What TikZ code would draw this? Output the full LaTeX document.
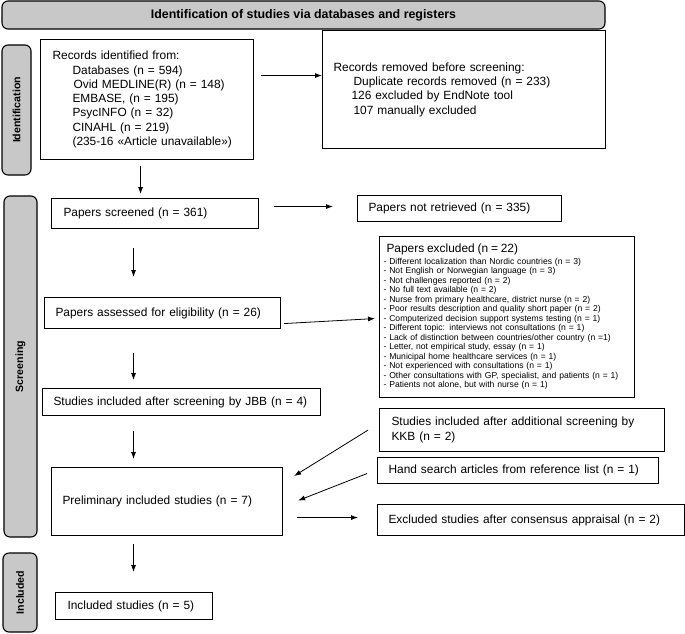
\documentclass[tikz,border=0pt]{standalone}
\usepackage{fontspec}
\setmainfont{Liberation Sans}
\usetikzlibrary{arrows.meta,calc}
\definecolor{bargray}{HTML}{C8C8C8}

\begin{document}
\begin{tikzpicture}[x=1pt,y=-1pt,
	box/.style={draw,line width=1.1pt,anchor=north west,align=left,inner ysep=0pt,font=\fontsize{11.9}{14.3}\selectfont},
	bar/.style={draw,line width=1.1pt,fill=bargray,rounded corners=6pt,font=\fontsize{10.6}{13}\selectfont\bfseries},
	arr/.style={line width=0.8pt,-{Latex[length=7pt,width=5pt]}}]

	\useasboundingbox (0,0) rectangle (685,633);

	\node[bar,minimum width=603pt,minimum height=28pt,font=\fontsize{12.4}{14}\selectfont\bfseries] (head) at (303.5,15) {Identification of studies via databases and registers};
	\node[bar,rotate=90,minimum width=130pt,minimum height=29pt] (idbar) at (16.5,110) {Identification};
	\node[bar,rotate=90,minimum width=341pt,minimum height=33pt] (scrbar) at (20.5,366.5) {Screening};
	\node[bar,rotate=90,minimum width=79pt,minimum height=34pt] (incbar) at (20,592.5) {Included};

	\node[box,text width=189pt,inner xsep=12pt,minimum height=120pt] (rec) at (40,39) {Records identified from:\\
		\hspace*{20pt}Databases (n = 594)\\
		\hspace*{21pt}Ovid MEDLINE(R) (n = 148)\\
		\hspace*{20pt}EMBASE, (n = 195)\\
		\hspace*{20pt}PsycINFO (n = 32)\\
		\hspace*{20pt}CINAHL (n = 219)\\
		\hspace*{20pt}(235-16 «Article unavailable»)};
	\node[box,text width=261pt,inner xsep=11pt,minimum height=118pt] (rem) at (322,30) {Records removed before screening:\\
		\hspace*{20pt}Duplicate records removed (n = 233)\\
		\hspace*{18pt}126 excluded by EndNote tool\\
		\hspace*{20pt}107 manually excluded};
	\node[box,text width=183pt,inner xsep=12pt,minimum height=30pt] (scr) at (51,198) {Papers screened (n = 361)};
	\node[box,text width=182pt,inner xsep=11pt,minimum height=26pt] (nret) at (357,195) {Papers not retrieved (n = 335)};
	\node[box,text width=247pt,inner xsep=4pt,minimum height=161pt,font=\fontsize{8.6}{9.5}\selectfont] (exc) at (379,236) {{\fontsize{11.9}{14.3}\selectfont\hspace*{3pt}Papers excluded (n = 22)}\\[2pt]
		- Different localization than Nordic countries (n = 3)\\
		- Not English or Norwegian language (n = 3)\\
		- Not challenges reported (n = 2)\\
		- No full text available (n = 2)\\
		- Nurse from primary healthcare, district nurse (n = 2)\\
		- Poor results description and quality short paper (n = 2)\\
		- Computerized decision support systems testing (n = 1)\\
		- Different topic: interviews not consultations (n = 1)\\
		- Lack of distinction between countries/other country (n =1)\\
		- Letter, not empirical study, essay (n = 1)\\
		- Municipal home healthcare services (n = 1)\\
		- Not experienced with consultations (n = 1)\\
		- Other consultations with GP, specialist, and patients (n = 1)\\
		- Patients not alone, but with nurse (n = 1)};
	\node[box,text width=214pt,inner xsep=11pt,minimum height=31pt] (elig) at (44,297) {Papers assessed for eligibility (n = 26)};
	\node[box,text width=256pt,inner xsep=11pt,minimum height=27pt] (jbb) at (42,388) {Studies included after screening by JBB (n = 4)};
	\node[box,text width=261pt,inner xsep=12pt,minimum height=43pt] (kkb) at (379,408) {Studies included after additional screening by\\KKB (n = 2)};
	\node[box,text width=259pt,inner xsep=11pt,minimum height=26pt] (hand) at (377,457) {Hand search articles from reference list (n = 1)};
	\node[box,text width=209pt,inner xsep=11pt,minimum height=68pt] (prel) at (51,467) {Preliminary included studies (n = 7)};
	\node[box,text width=285pt,inner xsep=11pt,minimum height=31pt] (cons) at (377,504) {Excluded studies after consensus appraisal (n = 2)};
	\node[box,text width=133pt,inner xsep=12pt,minimum height=27pt] (incl) at (55,592) {Included studies (n = 5)};

	\draw[arr] ($(rec.east)+(7,-24)$) -- ($(rem.west)+(0,-14)$);
	\draw[arr] ($(rec.south)+(-6.5,6)$) -- ($(scr.north)+(-14.5,-4)$);
	\draw[arr] ($(scr.east)+(15,-7)$) -- ($(nret.west)+(-24,-2)$);
	\draw[arr] ($(scr.south)+(-21.5,19)$) -- ($(elig.north)+(-29,-20)$);
	\draw[arr] ($(elig.east)+(3,10.5)$) -- ($(exc.west)+(-4,1.5)$);
	\draw[arr] ($(elig.south)+(-29,24)$) -- ($(jbb.north)+(-48,-8)$);
	\draw[arr] ($(jbb.south)+(-48,15)$) -- ($(prel.north)+(-33.5,-8)$);
	\draw[arr] ($(kkb.south west)+(-11,-22)$) -- ($(prel.north east)+(11,9)$);
	\draw[arr] ($(hand.west)+(-10,3)$) -- ($(prel.east)+(15,-1)$);
	\draw[arr] ($(prel.east)+(14,16)$) -- ($(cons.west)+(-19,-2.5)$);
	\draw[arr] ($(prel.south)+(-33.5,8)$) -- ($(incl.north)+(-0.5,-20)$);

\end{tikzpicture}
\end{document}
